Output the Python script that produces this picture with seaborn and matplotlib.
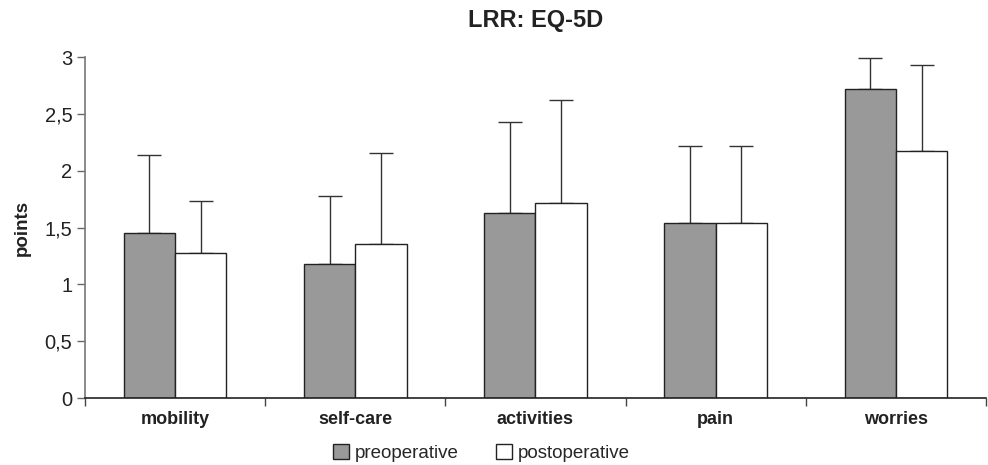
import pandas as pd
import matplotlib.pyplot as plt
import seaborn as sns
from matplotlib.patches import Patch

# Data
categories = ['mobility', 'self-care', 'activities', 'pain', 'worries']
groups = ['preoperative', 'postoperative']
pre_mean = [1.45, 1.18, 1.63, 1.54, 2.72]
post_mean = [1.275, 1.36, 1.72, 1.54, 2.175]
pre_upper = [2.14, 1.78, 2.43, 2.22, 2.99]
post_upper = [1.735, 2.16, 2.62, 2.22, 2.93]
y_ticks = [0, 0.5, 1, 1.5, 2, 2.5, 3]
y_tick_labels = ['0', '0,5', '1', '1,5', '2', '2,5', '3']

sns.set_style('white')
plt.rcParams['font.family'] = ['Liberation Sans', 'DejaVu Sans']

df = pd.DataFrame({
    'category': categories * 2,
    'group': [groups[0]] * 5 + [groups[1]] * 5,
    'mean': pre_mean + post_mean,
    'upper': pre_upper + post_upper,
})

fig, ax = plt.subplots(figsize=(9.88, 4.65), dpi=100)
fig.subplots_adjust(left=0.086, right=0.998, bottom=0.144, top=0.877)

palette = {'preoperative': '#999999', 'postoperative': '#ffffff'}
sns.barplot(data=df, x='category', y='mean', hue='group', order=categories,
            hue_order=groups, palette=palette, width=0.57, edgecolor='#222222',
            linewidth=1, errorbar=None, legend=False, ax=ax, zorder=2)

# upper-only error bars, placed at each bar's centre
for patch, (_, row) in zip(ax.patches, df.iterrows()):
    xc = patch.get_x() + patch.get_width() / 2
    err = row['upper'] - row['mean']
    ax.errorbar(xc, row['mean'], yerr=[[0], [err]], fmt='none',
                ecolor='#333333', elinewidth=1, capsize=8.5, capthick=1, zorder=1)

ax.set_ylim(0, 3)
ax.set_xlim(-0.5, 4.5)
ax.set_yticks(y_ticks)
ax.set_yticklabels(y_tick_labels, fontsize=14.5, color='#222222')
ax.set_xticks([i - 0.5 for i in range(6)])
ax.set_xticklabels([])
ax.set_xticks(range(5), minor=True)
ax.set_xticklabels(categories, minor=True, fontsize=13, fontweight='bold', color='#222222')
ax.tick_params(axis='x', which='major', direction='out', length=6, width=1, color='#444444', bottom=True)
ax.tick_params(axis='x', which='minor', length=0, pad=9)
ax.tick_params(axis='y', direction='out', length=6, width=1, color='#666666', left=True, pad=3)

for side in ['top', 'right']:
    ax.spines[side].set_visible(False)
ax.spines['left'].set_color('#777777')
ax.spines['left'].set_linewidth(1.2)
ax.spines['bottom'].set_color('#222222')
ax.spines['bottom'].set_linewidth(1.2)

ax.set_xlabel('')
ax.set_ylabel('points', fontsize=13.5, fontweight='bold', color='#222222', labelpad=10)
ax.set_title('LRR: EQ-5D', fontsize=17, fontweight='bold', color='#222222', pad=22)

handles = [Patch(facecolor=palette[g], edgecolor='#222222', linewidth=1, label=g) for g in groups]
fig.legend(handles=handles, loc='lower center', bbox_to_anchor=(0.487, -0.03), ncol=2,
           frameon=False, fontsize=13.5, handlelength=0.85, handleheight=0.85,
           handletextpad=0.3, columnspacing=2.0)

fig.savefig('out.png', dpi=100)
